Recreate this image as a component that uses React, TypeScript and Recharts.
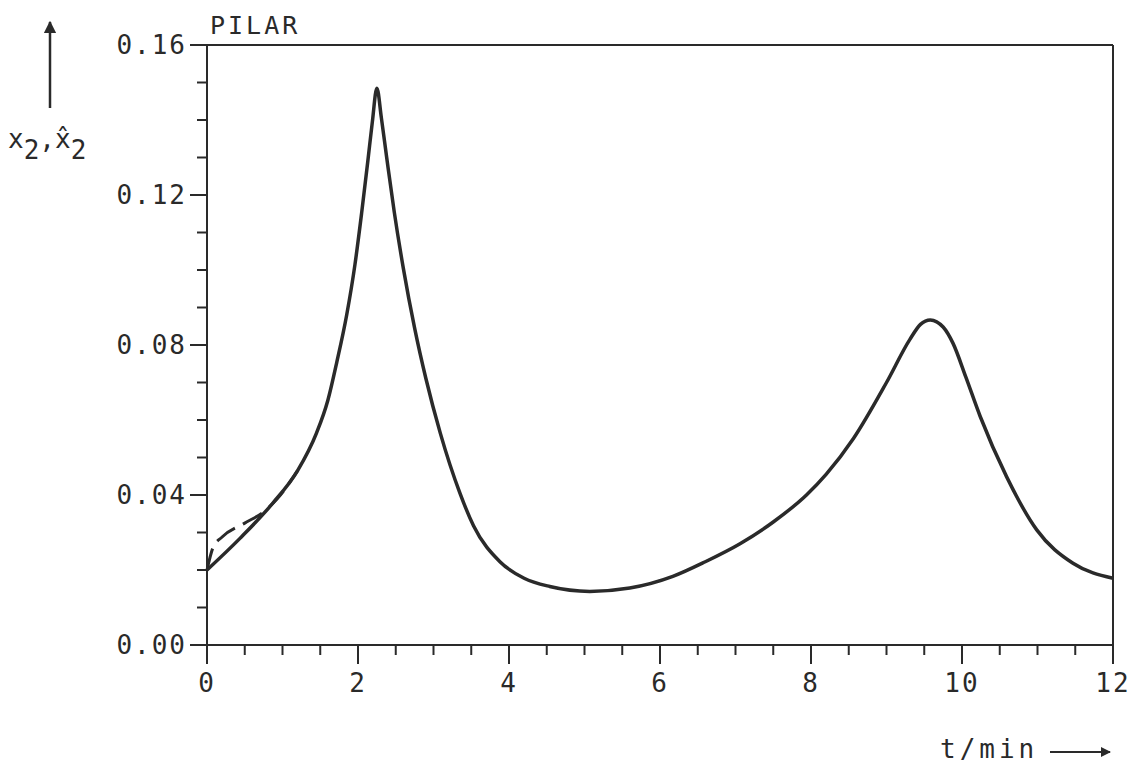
import React from "react";
import { LineChart, Line, XAxis, YAxis, ReferenceLine } from "recharts";

// measured x2 (solid) and estimate x2-hat (dashed), t in min
const solidT = [0, 0.44, 0.87, 1.2, 1.45, 1.6, 1.72, 1.85, 1.96, 2.05, 2.13, 2.19, 2.25, 2.31, 2.38, 2.48, 2.6, 2.75, 2.9, 3.09, 3.35, 3.53, 3.88, 4.2, 4.54, 5.07, 5.6, 6.17, 6.6, 7.06, 7.5, 7.94, 8.2, 8.56, 9.0, 9.31, 9.45, 9.58, 9.75, 9.88, 10.05, 10.24, 10.59, 10.99, 11.47, 12];
const solidV = [0.02, 0.0285, 0.0378, 0.0465, 0.0565, 0.0652, 0.0755, 0.088, 0.1015, 0.1155, 0.129, 0.1395, 0.1485, 0.1405, 0.13, 0.1155, 0.1005, 0.0845, 0.071, 0.0565, 0.0405, 0.0318, 0.0222, 0.0178, 0.0156, 0.0143, 0.0152, 0.0183, 0.0222, 0.027, 0.0328, 0.04, 0.0455, 0.055, 0.07, 0.0815, 0.0855, 0.0867, 0.0848, 0.0805, 0.0715, 0.061, 0.0449, 0.0307, 0.0218, 0.0178];
const dashT = [0, 0.08, 0.2, 0.5, 0.75, 0.93, 1.2];
const dashV = [0.02, 0.026, 0.0288, 0.0325, 0.0355, 0.039, 0.0465];

const xTicks = [0, 0.5, 1, 1.5, 2, 2.5, 3, 3.5, 4, 4.5, 5, 5.5, 6, 6.5, 7, 7.5, 8, 8.5, 9, 9.5, 10, 10.5, 11, 11.5, 12];
const yTicks = [0, 0.01, 0.02, 0.03, 0.04, 0.05, 0.06, 0.07, 0.08, 0.09, 0.1, 0.11, 0.12, 0.13, 0.14, 0.15, 0.16];

const solid = solidT.map((t, i) => ({ t, v: solidV[i] }));
const dashed = dashT.map((t, i) => ({ t, v: dashV[i] }));

const INK = "#2a2a2a";
const FONT = "'DejaVu Sans Mono', monospace";

const YTick = (props: any) => {
    const { x, y, payload } = props;
    const major = Math.round(payload.value * 100) % 4 === 0;
    return (
        <g>
            <line x1={x - (major ? 17 : 10)} y1={y} x2={x} y2={y} stroke={INK} strokeWidth={2} />
            {major && (
                <text x={x - 20} y={y + 9} textAnchor="end" fontFamily={FONT} fontSize={26} letterSpacing={2} fill={INK}>
                    {payload.value.toFixed(2)}
                </text>
            )}
        </g>
    );
};

const XTick = (props: any) => {
    const { x, y, payload } = props;
    const major = payload.value % 2 === 0;
    return (
        <g>
            <line x1={x} y1={y} x2={x} y2={y + (major ? 19 : 10)} stroke={INK} strokeWidth={2} />
            {major && (
                <text x={x} y={y + 47} textAnchor="middle" fontFamily={FONT} fontSize={26} letterSpacing={2} fill={INK}>
                    {payload.value}
                </text>
            )}
        </g>
    );
};

export default function App() {
    return (
        <div style={{ position: "absolute", left: 0, top: 0, width: 1145, height: 767, background: "#fff" }}>
            <LineChart width={1145} height={767} margin={{ top: 45, right: 32, bottom: 82, left: 0 }}>
                <XAxis
                    dataKey="t"
                    type="number"
                    domain={[0, 12]}
                    ticks={xTicks}
                    tick={<XTick />}
                    tickLine={false}
                    tickSize={0}
                    tickMargin={0}
                    height={40}
                    axisLine={{ stroke: INK, strokeWidth: 2 }}
                    interval={0}
                />
                <YAxis
                    dataKey="v"
                    type="number"
                    domain={[0, 0.16]}
                    ticks={yTicks}
                    tick={<YTick />}
                    tickLine={false}
                    tickSize={0}
                    tickMargin={0}
                    width={207}
                    axisLine={{ stroke: INK, strokeWidth: 2 }}
                    interval={0}
                />
                <ReferenceLine y={0.16} stroke={INK} strokeWidth={2} />
                <ReferenceLine x={12} stroke={INK} strokeWidth={2} />
                <Line data={dashed} dataKey="v" type="monotone" stroke={INK} strokeWidth={3} strokeDasharray="22 9" dot={false} isAnimationActive={false} />
                <Line data={solid} dataKey="v" type="monotone" stroke={INK} strokeWidth={3.5} dot={false} isAnimationActive={false} />
            </LineChart>
            <svg width={1145} height={767} style={{ position: "absolute", left: 0, top: 0, pointerEvents: "none" }}>
                <defs>
                    <marker id="ah" viewBox="0 0 10 10" refX="9" refY="5" markerWidth="5" markerHeight="5" orient="auto">
                        <path d="M0,0 L10,5 L0,10 z" fill={INK} />
                    </marker>
                </defs>
                <text x={210} y={34} fontFamily={FONT} fontSize={25} letterSpacing={3} fill={INK}>PILAR</text>
                <line x1={50} y1={108} x2={50} y2={22} stroke={INK} strokeWidth={2.5} markerEnd="url(#ah)" />
                <text x={8} y={148} fontFamily={FONT} fontSize={26} fill={INK}>
                    x<tspan dy={11}>2</tspan><tspan dy={-11}>,x̂</tspan><tspan dy={11}>2</tspan>
                </text>
                <text x={940} y={758} fontFamily={FONT} fontSize={26} letterSpacing={4} fill={INK}>t/min</text>
                <line x1={1050} y1={752} x2={1110} y2={752} stroke={INK} strokeWidth={2} markerEnd="url(#ah)" />
            </svg>
        </div>
    );
}
